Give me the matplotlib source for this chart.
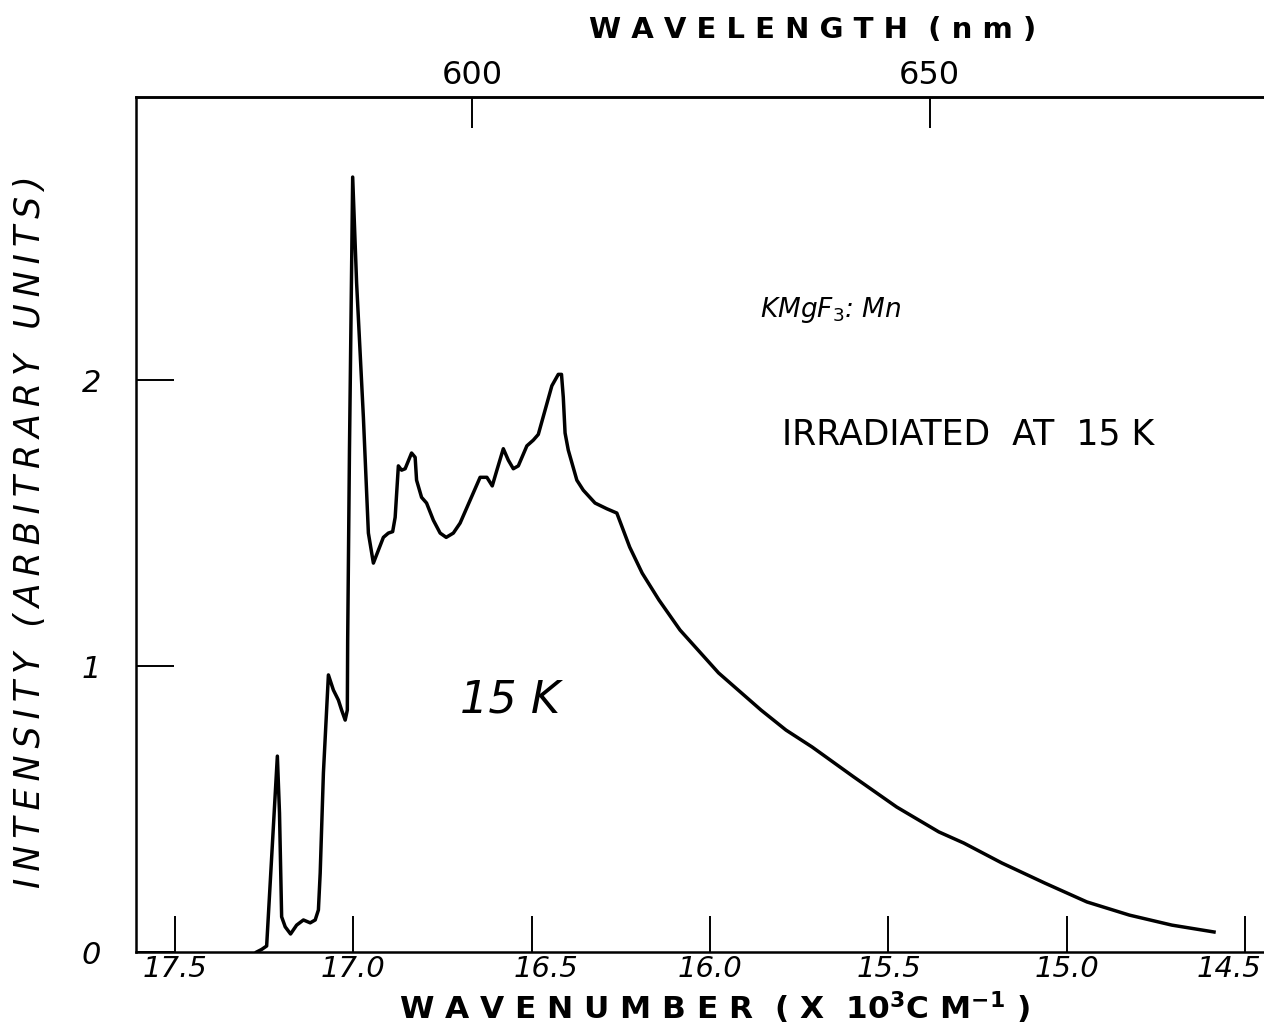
import matplotlib
matplotlib.use('Agg')
import matplotlib.pyplot as plt
import matplotlib.transforms as mtransforms

# Emission trace: wavenumber (x10^3 cm^-1) vs intensity (arb. units)
wavenumber = [17.27, 17.256, 17.242, 17.212, 17.206, 17.200, 17.190, 17.175, 17.158,
              17.139, 17.120, 17.106, 17.097, 17.092, 17.083, 17.069, 17.055, 17.041,
              17.032, 17.022, 17.016, 17.015, 17.010, 17.001, 16.990, 16.971, 16.957,
              16.943, 16.929, 16.915, 16.901, 16.889, 16.882, 16.873, 16.864, 16.854,
              16.836, 16.826, 16.822, 16.808, 16.794, 16.775, 16.756, 16.739, 16.719,
              16.700, 16.672, 16.644, 16.625, 16.610, 16.597, 16.579, 16.565, 16.551,
              16.537, 16.513, 16.495, 16.481, 16.462, 16.443, 16.425, 16.416, 16.411,
              16.406, 16.397, 16.373, 16.355, 16.322, 16.289, 16.261, 16.225, 16.190,
              16.143, 16.084, 15.976, 15.857, 15.787, 15.714, 15.597, 15.477, 15.359,
              15.289, 15.182, 15.062, 14.944, 14.825, 14.706, 14.588]
intensity = [0.0, 0.009, 0.021, 0.685, 0.486, 0.123, 0.088, 0.063, 0.094,
             0.112, 0.102, 0.112, 0.147, 0.276, 0.626, 0.969, 0.916, 0.881,
             0.846, 0.811, 0.846, 1.09, 1.755, 2.71, 2.34, 1.87, 1.465,
             1.36, 1.405, 1.45, 1.465, 1.47, 1.52, 1.70, 1.685, 1.69,
             1.745, 1.73, 1.65, 1.59, 1.57, 1.51, 1.465, 1.45, 1.465,
             1.50, 1.58, 1.66, 1.66, 1.63, 1.685, 1.76, 1.72, 1.69,
             1.70, 1.77, 1.79, 1.81, 1.895, 1.98, 2.02, 2.02, 1.94,
             1.815, 1.755, 1.65, 1.615, 1.57, 1.55, 1.535, 1.416, 1.325,
             1.231, 1.126, 0.976, 0.846, 0.776, 0.717, 0.612, 0.507, 0.420,
             0.381, 0.311, 0.241, 0.175, 0.129, 0.094, 0.070]

x_ticks = [17.5, 17.0, 16.5, 16.0, 15.5, 15.0, 14.5]
x_ticklabels = ['17.5', '17.0', '16.5', '16.0', '15.5', '15.0', '14.5']
y_ticks = [0, 1, 2]
y_ticklabels = ['0', '1', '2']
nm_ticks = [600, 650]
nm_ticklabels = ['600', '650']

plt.rcParams['font.family'] = 'DejaVu Sans'
plt.rcParams['mathtext.fontset'] = 'dejavusans'

fig = plt.figure(figsize=(12.64, 10.32), dpi=100)
ax = fig.add_axes([136 / 1264, 1 - 952 / 1032, 1 - 136 / 1264, (952 - 97) / 1032])

ax.plot(wavenumber, intensity, color='black', linewidth=2.5, solid_joinstyle='round')

ax.set_xlim(17.608, 14.448)
ax.set_ylim(0, 2.99)

for side in ['left', 'bottom', 'top']:
    ax.spines[side].set_linewidth(1.8)
ax.spines['right'].set_visible(False)

ax.set_xticks(x_ticks)
ax.set_xticklabels(x_ticklabels, fontsize=21, style='italic')
ax.set_yticks(y_ticks)
ax.set_yticklabels(y_ticklabels, fontsize=22, style='italic')
ax.tick_params(axis='x', direction='in', length=26, width=1.4, pad=2)
ax.tick_params(axis='y', direction='in', length=27, width=1.4, pad=25)

# hand-lettered labels sit a little off their ticks
label_shift = {'16.5': 14, '14.5': -16}
for lab in ax.get_xticklabels():
    dx = label_shift.get(lab.get_text(), 0)
    if dx:
        lab.set_transform(lab.get_transform() +
                          mtransforms.ScaledTranslation(dx / 100, 0, fig.dpi_scale_trans))

# wavelength scale on top (nm = 1e4 / wavenumber in 10^3 cm^-1)
top = ax.secondary_xaxis('top', functions=(lambda k: 1e4 / k, lambda l: 1e4 / l))
top.set_xticks(nm_ticks)
top.set_xticklabels(nm_ticklabels, fontsize=23)
top.tick_params(direction='in', length=22, width=1.4, pad=4)
top.spines['top'].set_linewidth(1.8)

# axis titles
fig.text(813 / 1264, 1 - 30 / 1032, 'W A V E L E N G T H  ( n m )',
         fontsize=21, fontweight='bold', ha='center', va='center')
fig.text(714 / 1264, 1 - 1008 / 1032,
         r'W A V E N U M B E R  ( X  10$^\mathbf{3}$C M$^\mathbf{-1}$ )',
         fontsize=22.5, fontweight='bold', ha='center', va='center')
ylab = '\u2009'.join('INTENSITY (ARBITRARY UNITS)')
fig.text(30 / 1264, 1 - 532 / 1032, ylab, fontsize=25, style='italic',
         rotation=90, ha='center', va='center')

# annotations
ax.text(15.86, 2.245, 'KMgF$_3$: Mn', fontsize=19, style='italic', ha='left', va='center')
ax.text(15.798, 1.808, 'IRRADIATED  AT  15 K', fontsize=25, ha='left', va='center')
ax.text(16.56, 0.88, '15 K', fontsize=32, style='italic', ha='center', va='center')

fig.savefig('out.png', dpi=100)
